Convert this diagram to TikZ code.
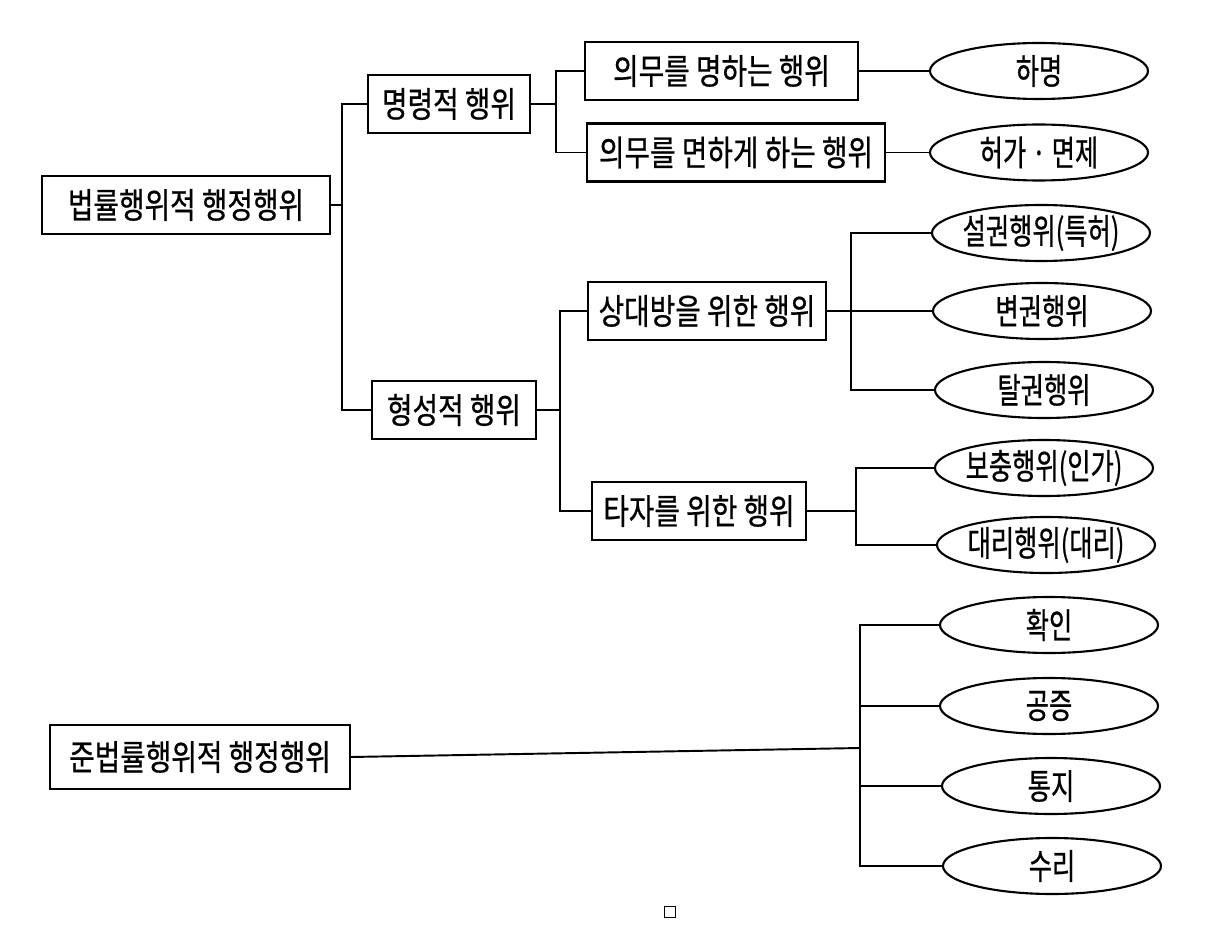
\documentclass[tikz,border=0pt]{standalone}
\usepackage{fontspec}
\usetikzlibrary{shapes.geometric}
\newfontfamily\kr[FakeStretch=0.79,FakeBold=0.6]{Noto Sans CJK KR}
\newfontfamily\krx[FakeStretch=0.72,FakeBold=0.6]{Noto Sans CJK KR}

\begin{document}
\begin{tikzpicture}[box/.style = {draw, line width=1.2pt, minimum height=1.16cm, inner sep=2pt, font=\kr\fontsize{20}{22}\selectfont},
oval/.style = {draw, ellipse, line width=1.2pt, minimum width=4.36cm, minimum height=1.12cm, inner xsep=-0.2cm, inner ysep=0pt, font=\krx\fontsize{20}{22}\selectfont}, line width=1.1pt]
\useasboundingbox (0,0) rectangle (24.48,-18.74);
\node[box, minimum width=5.76cm](root1) at (3.72,-4.10) {법률행위적 행정행위};
\node[box, minimum width=3.24cm](cmd) at (8.98,-2.08) {명령적 행위}; \node[box, minimum width=3.28cm](form) at (9.08,-8.20) {형성적 행위};
\node[box, minimum width=5.46cm](duty) at (14.43,-1.42) {의무를 명하는 행위}; \node[box, minimum width=5.96cm](exempt) at (14.72,-3.05) {의무를 면하게 하는 행위};
\node[box, minimum width=4.76cm](party) at (14.14,-6.22) {상대방을 위한 행위}; \node[box, minimum width=4.28cm](other) at (13.98,-10.22) {타자를 위한 행위};
\node[box, minimum width=6.00cm, minimum height=1.28cm](root2) at (4.00,-15.14) {준법률행위적 행정행위};
\node[oval](hamyeong) at (20.78,-1.42) {하명}; \node[oval](heoga) at (20.78,-3.05) {허가 · 면제};
\node[oval](seolgwon) at (20.82,-4.66) {설권행위(특허)}; \node[oval](byeongwon) at (20.84,-6.22) {변권행위};
\node[oval](talgwon) at (20.88,-7.80) {탈권행위}; \node[oval](bochung) at (20.88,-9.36) {보충행위(인가)};
\node[oval](daeri) at (20.92,-10.90) {대리행위(대리)};
\node[oval](hwagin) at (20.98,-12.50) {확인}; \node[oval](gongjeung) at (20.98,-14.12) {공증};
\node[oval](tongji) at (21.02,-15.72) {통지}; \node[oval](suri) at (21.04,-17.32) {수리};
\node[draw, line width=0.6pt, minimum size=0.22cm, inner sep=0pt](blank) at (13.40,-18.24) {};
\coordinate (j1) at (6.84,-4.10); \coordinate (j2) at (11.12,-2.08); \coordinate (j3) at (11.20,-8.20);
\coordinate (j4) at (17.02,-6.22); \coordinate (j5) at (17.12,-10.22); \coordinate (j6) at (17.20,-14.96);
\draw (root1.east) -- (j1); \draw (cmd.west) -| (j1) |- (form.west);
\draw (cmd.east) -- (j2); \draw (duty.west) -| (j2) |- (exempt.west);
\draw (duty.east) -- (hamyeong.west); \draw (exempt.east) -- (heoga.west);
\draw (form.east) -- (j3); \draw (party.west) -| (j3) |- (other.west);
\draw (party.east) -- (byeongwon.west); \draw (seolgwon.west) -| (j4) |- (talgwon.west);
\draw (other.east) -- (j5); \draw (bochung.west) -| (j5) |- (daeri.west);
\draw (root2.east) -- (j6); \draw (hwagin.west) -| (j6) |- (suri.west);
\draw (gongjeung.west) -- (gongjeung.west -| j6); \draw (tongji.west) -- (tongji.west -| j6);
\end{tikzpicture}
\end{document}
